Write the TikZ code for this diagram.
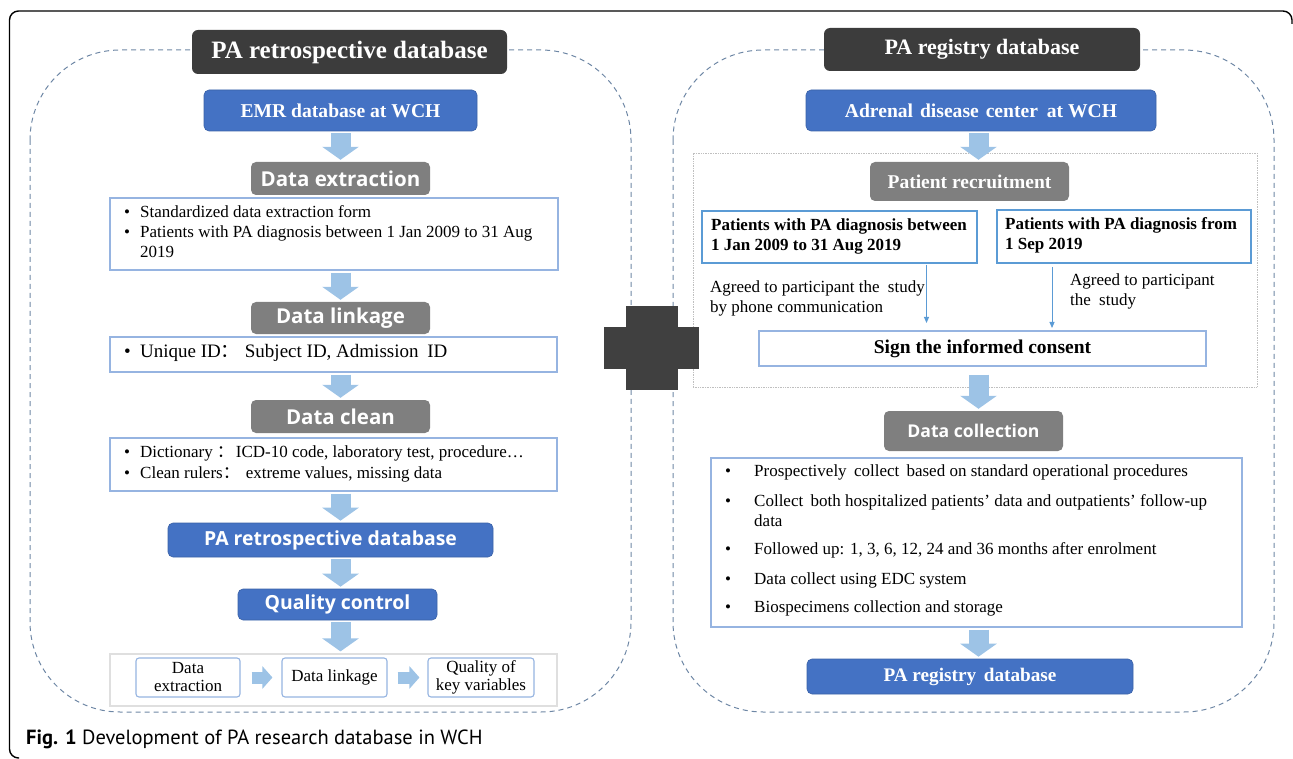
\documentclass[tikz,border=0pt]{standalone}
\usepackage{fontspec}
\setmainfont{Liberation Serif}
\newfontfamily\osans{Open Sans}
\newfontfamily\capfont{PT Sans}
\newfontfamily\cjk{Noto Sans CJK SC}
\usetikzlibrary{arrows.meta}
\definecolor{darkbox}{RGB}{60,60,60}
\definecolor{blueC}{RGB}{68,114,196}
\definecolor{grayC}{RGB}{127,127,127}
\definecolor{arrowC}{RGB}{157,195,230}
\definecolor{lineC}{RGB}{150,180,225}
\definecolor{thinC}{RGB}{91,155,213}
\definecolor{dashC}{RGB}{110,135,165}
\definecolor{crossC}{RGB}{64,64,64}
\newcommand\fsz[2]{\fontsize{#1}{#2}\selectfont}
\begin{document}
\begin{tikzpicture}[x=1pt,y=-1pt,
  titlebox/.style={fill=darkbox, rounded corners=6pt, text=white, inner sep=0pt},
  bluebox/.style={fill=blueC, draw=blueC!85!black, line width=0.6pt, rounded corners=5pt, text=white, inner sep=0pt},
  graybox/.style={fill=grayC, rounded corners=5pt, text=white, inner sep=0pt},
  listbox/.style={draw=lineC, line width=1.3pt, fill=white, inner sep=0pt},
  smallbox/.style={draw=lineC, line width=1.1pt, fill=white, rounded corners=3pt, inner sep=0pt, align=center, font=\fsz{17}{18}},
  container/.style={draw=dashC, line width=1pt, dash pattern=on 5pt off 4pt, rounded corners=90pt},
  txt/.style={inner sep=0pt, anchor=west, text height=0.7em, text depth=0.2em},
  blockarrow/.style={draw=arrowC, line width=20pt, -{Triangle[length=13pt,width=36pt]}, shorten <=2pt, shorten >=2pt},
  smallarrow/.style={draw=arrowC, line width=12pt, -{Triangle[length=10pt,width=22pt]}},
  thinarrow/.style={draw=thinC, line width=0.9pt, -{Triangle[length=6pt,width=5pt]}},
  sansbold/.style={font=\osans\bfseries\fsz{#1}{#1}},
  serifbold/.style={font=\bfseries\fsz{#1}{#1}}
]
\useasboundingbox (0,0) rectangle (1293,759);
% outer frame
\draw[line width=1.4pt, rounded corners=9pt] (19,758) -- (9.5,758) -- (9.5,11) -- (1292,11) -- (1292,24);
% containers
\draw[container] (30,50) rectangle (631,712);
\draw[container] (673,50) rectangle (1274,712);
\node[draw=gray!50, densely dotted, line width=0.7pt, minimum width=564pt, minimum height=234pt, inner sep=0pt] (rcont) at (975,270) {};
% cross
\fill[crossC] (626,306) rectangle (678,390);
\fill[crossC] (604,327) rectangle (699,369);

% ---------------- left panel ----------------
\node[titlebox, serifbold=25, minimum width=315pt, minimum height=44pt] (ltitle) at (349.5,52) {PA retrospective database};
\node[bluebox, serifbold=19.6, minimum width=273pt, minimum height=41pt] (emr) at (340.5,110.5) {EMR database at WCH};
\node[graybox, sansbold=20.5, minimum width=179pt, minimum height=33pt] (dext) at (340.5,178.5) {Data extraction};
\node[listbox, minimum width=448pt, minimum height=72pt] (box1) at (334,234) {};
\node[txt, font=\fsz{17}{20}] (b1a) at (124,215) {\makebox[16pt][l]{•}Standardized data extraction form};
\node[txt, font=\fsz{17}{20}] (b1b) at (124,235) {\makebox[16pt][l]{•}Patients with PA diagnosis between 1 Jan 2009 to 31 Aug};
\node[txt, font=\fsz{17}{20}] (b1c) at (140,255) {2019};

\node[graybox, sansbold=20.5, minimum width=179pt, minimum height=32pt] (dlink) at (340.5,318) {Data linkage};
\node[listbox, minimum width=447pt, minimum height=35pt] (box2) at (333.5,354.5) {};
\node[txt, font=\fsz{19}{22}] (b2a) at (124,355) {\makebox[16pt][l]{•}Unique ID{\cjk ：}\hspace{5pt}Subject ID, Admission\hspace{4pt} ID};

\node[graybox, sansbold=20.5, minimum width=179pt, minimum height=33pt] (dclean) at (340.5,416.5) {Data clean};
\node[listbox, minimum width=447pt, minimum height=53pt] (box3) at (333.5,464.5) {};
\node[txt, font=\fsz{17}{20}] (b3a) at (124,455) {\makebox[16pt][l]{•}Dictionary\hspace{4pt}{\cjk ：}\hspace{2pt}ICD-10 code, laboratory test, procedure…};
\node[txt, font=\fsz{17}{20}] (b3b) at (124,476) {\makebox[16pt][l]{•}Clean rulers{\cjk ：}\hspace{6pt}extreme values, missing data};

\node[bluebox, sansbold=19.4, minimum width=325pt, minimum height=34pt] (pretro) at (330.5,540) {PA retrospective database};
\node[bluebox, sansbold=19.4, minimum width=199pt, minimum height=31pt] (qc) at (337.5,604.5) {Quality control};
\node[draw=gray!25, line width=1.2pt, fill=white, minimum width=447pt, minimum height=52pt, inner sep=0pt] (box4) at (333.5,680) {};
\node[smallbox, minimum width=104pt, minimum height=39pt] (ib1) at (188,677.5) {Data\\extraction};
\node[smallbox, minimum width=105pt, minimum height=39pt] (ib2) at (334.5,677.5) {Data linkage};
\node[smallbox, minimum width=106pt, minimum height=39pt] (ib3) at (481,677.5) {Quality of\\key variables};

\draw[blockarrow] (emr.south) -- (dext.north);
\draw[blockarrow] (box1.south -| dlink.north) -- (dlink.north);
\draw[blockarrow] (box2.south -| dclean.north) -- (dclean.north);
\draw[blockarrow] (box3.south -| dclean.north) -- (pretro.north -| dclean.north);
\draw[blockarrow] (pretro.south -| dclean.north) -- (qc.north -| dclean.north);
\draw[blockarrow] (qc.south -| dclean.north) -- (box4.north -| dclean.north);
\draw[smallarrow, shorten <=11pt, shorten >=9pt] (ib1.east) -- (ib2.west);
\draw[smallarrow, shorten <=10pt, shorten >=8pt] (ib2.east) -- (ib3.west);

% ---------------- right panel ----------------
\node[titlebox, serifbold=22, minimum width=316pt, minimum height=43pt] (rtitle) at (982,49.5) {PA registry database};
\node[bluebox, serifbold=19.6, minimum width=350pt, minimum height=41pt] (adr) at (981,110.5) {Adrenal\hspace{2pt} disease\hspace{2pt} center\hspace{4pt} at WCH};
\node[graybox, serifbold=19.5, minimum width=199pt, minimum height=39pt] (prec) at (969.5,181.5) {Patient recruitment};
\node[draw=thinC, line width=1.2pt, fill=white, minimum width=275pt, minimum height=52pt, inner sep=0pt] (pl) at (839.5,237) {};
\node[draw=thinC, line width=1.2pt, fill=white, minimum width=254pt, minimum height=53pt, inner sep=0pt] (pr) at (1124,236.5) {};
\node[txt, serifbold=17] (pla) at (711,228) {Patients with PA diagnosis between};
\node[txt, serifbold=17] (plb) at (711,248) {1 Jan 2009 to 31 Aug 2019};
\node[txt, serifbold=17] (pra) at (1005,227) {Patients with PA diagnosis from};
\node[txt, serifbold=17] (prb) at (1005,247) {1 Sep 2019};
\node[txt, font=\fsz{17}{20}] (lab1) at (710,290) {Agreed to participant the\hspace{4pt} study};
\node[txt, font=\fsz{17}{20}] (lab2) at (710,310) {by phone communication};
\node[txt, font=\fsz{17}{20}] (lab3) at (1070,283) {Agreed to participant};
\node[txt, font=\fsz{17}{20}] (lab4) at (1070,303) {the\hspace{4pt} study};
\node[listbox, draw=lineC, serifbold=19.5, minimum width=447pt, minimum height=35pt] (sign) at (982.5,348.5) {Sign the informed consent};
\coordinate (ta) at (926.5,265);
\coordinate (tb) at (1052,267);
\draw[thinarrow] (ta) -- (ta |- 0,323);
\draw[thinarrow] (tb) -- (tb |- 0,328);

\node[graybox, sansbold=17.6, minimum width=179pt, minimum height=40pt] (dcoll) at (973.5,431) {Data collection};
\node[listbox, minimum width=531pt, minimum height=169pt] (box5) at (976.5,542.5) {};
\node[txt, font=\fsz{17}{20}] (r1) at (725,474) {\makebox[29pt][l]{•}Prospectively\hspace{3pt} collect\hspace{3pt} based on standard operational procedures};
\node[txt, font=\fsz{17}{20}] (r2) at (725,504) {\makebox[29pt][l]{•}Collect\hspace{3pt} both hospitalized patients’ data and outpatients’ follow-up};
\node[txt, font=\fsz{17}{20}] (r2b) at (754,524) {data};
\node[txt, font=\fsz{17}{20}] (r3) at (725,552) {\makebox[29pt][l]{•}Followed up: 1, 3, 6, 12, 24 and 36 months after enrolment};
\node[txt, font=\fsz{17}{20}] (r4) at (725,582) {\makebox[29pt][l]{•}Data collect using EDC system};
\node[txt, font=\fsz{17}{20}] (r5) at (725,610) {\makebox[29pt][l]{•}Biospecimens collection and storage};
\node[bluebox, serifbold=19.2, minimum width=326pt, minimum height=35pt] (preg) at (970,676.5) {PA registry\hspace{3pt} database};

\draw[blockarrow] (adr.south -| 978.5,0) -- (prec.north -| 978.5,0);
\draw[blockarrow, shorten <=8pt] (sign.south -| 978.5,0) -- (dcoll.north -| 978.5,0);
\draw[blockarrow] (box5.south -| 978.5,0) -- (preg.north -| 978.5,0);

% caption
\node[txt, font=\capfont\fsz{20.5}{24}] (cap) at (26,742) {{\bfseries Fig. 1} Development of PA research database in WCH};
\end{tikzpicture}
\end{document}
